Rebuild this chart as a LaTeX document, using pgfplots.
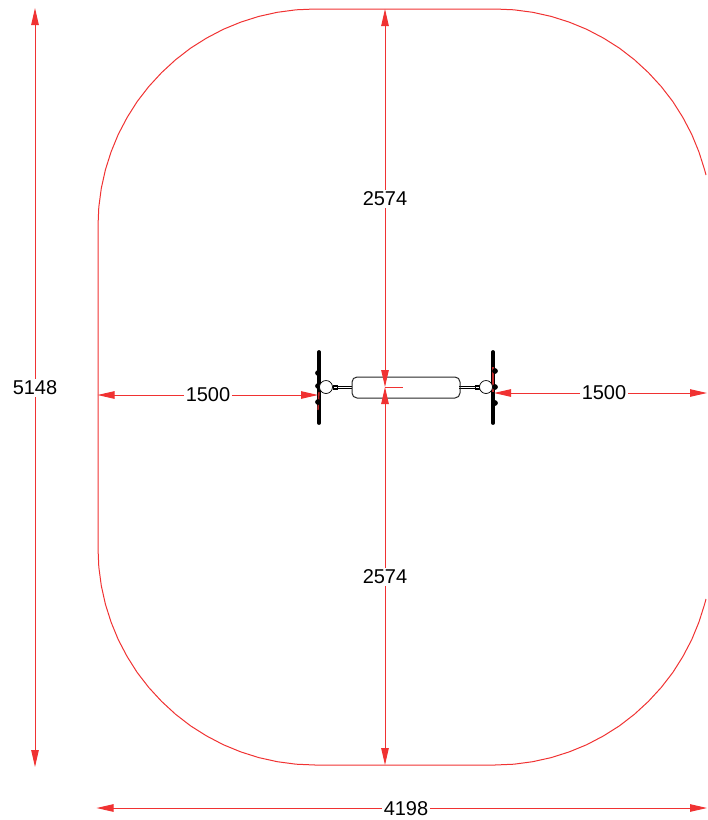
\documentclass[border=0pt]{standalone}
\usepackage{fontspec}
\setmainfont{Liberation Sans}
\usepackage{pgfplots}
\pgfplotsset{compat=1.18}
\usetikzlibrary{arrows.meta}
\definecolor{dimred}{RGB}{240,50,50}
\tikzset{
  dim/.style={color=dimred,line width=0.95pt,{Triangle[length=17pt,width=7.5pt]}-{Triangle[length=17pt,width=7.5pt]}},
  dimlabel/.style={fill=white,inner sep=1.5pt,font=\fontsize{20}{20}\selectfont},
}
\begin{document}
\begin{tikzpicture}
\begin{axis}[
  name=m,
  scale only axis, width=707pt, height=820pt,
  xmin=0, xmax=707, ymin=0, ymax=820, y dir=reverse,
  hide axis, clip=false,
]
% outline, open on the right
\addplot[color=dimred,line width=1pt,no markers] coordinates {
  (706,175)(704.6,169.8)(698.9,151.8)(691.7,134.3)(682.9,117.5)(672.8,101.5)(661.2,86.5)(648.4,72.6)(634.5,59.8)(619.5,48.2)(603.5,38.1)(586.7,29.3)(569.2,22.1)(551.2,16.4)(532.7,12.3)(513.9,9.8)(495,9)
  (315,9)(296.1,9.8)(277.3,12.3)(258.8,16.4)(240.8,22.1)(223.3,29.3)(206.5,38.1)(190.5,48.2)(175.5,59.8)(161.6,72.6)(148.8,86.5)(137.2,101.5)(127.1,117.5)(118.3,134.3)(111.1,151.8)(105.4,169.8)(101.3,188.3)(98.8,207.1)(98,226)
  (98,548)(98.8,566.9)(101.3,585.7)(105.4,604.2)(111.1,622.2)(118.3,639.7)(127.1,656.5)(137.2,672.5)(148.8,687.5)(161.6,701.4)(175.5,714.2)(190.5,725.8)(206.5,735.9)(223.3,744.7)(240.8,751.9)(258.8,757.6)(277.3,761.7)(296.1,764.2)(315,765)
  (495,765)(513.9,764.2)(532.7,761.7)(551.2,757.6)(569.2,751.9)(586.7,744.7)(603.5,735.9)(619.5,725.8)(634.5,714.2)(648.4,701.4)(661.2,687.5)(672.8,672.5)(682.9,656.5)(691.7,639.7)(698.9,622.2)(704.6,604.2)(706,599)
};
% equipment
\addplot[black,line width=3.8pt,line cap=round,no markers] coordinates {(319,352)(319,423)};
\addplot[black,line width=3.8pt,line cap=round,no markers] coordinates {(493,352)(493,423)};
\addplot[only marks,mark=*,mark size=2.6pt,black] coordinates {
  (318,373)(318,386)(318,402)(495,371)(495,387)(495,403)};
\addplot[black,line width=0.7pt,no markers] coordinates {(333,386)(352,386)};
\addplot[black,line width=0.7pt,no markers] coordinates {(333,388.5)(352,388.5)};
\addplot[black,line width=0.7pt,no markers] coordinates {(459,386)(479,386)};
\addplot[black,line width=0.7pt,no markers] coordinates {(459,388.5)(479,388.5)};
\addplot[only marks,mark=square,mark size=2pt,black,mark options={fill=white,line width=0.6pt}] coordinates {(335,387)(477,387)};
\addplot[only marks,mark=*,mark size=6.5pt,mark options={fill=white,draw=black,line width=0.7pt}] coordinates {(326,387)(486,387)};
\addplot[black!85,line width=1pt,rounded corners=5pt,no markers] coordinates {
  (400,377)(460,377)(460,398)(352,398)(352,377)(400,377)};
% red details on the equipment
\addplot[color=dimred,line width=0.95pt,no markers] coordinates {(385,387)(403,387)};
\addplot[color=dimred!80!black,line width=1.4pt,no markers] coordinates {(319,392)(318,410)};
\addplot[color=dimred!80!black,line width=1.4pt,no markers] coordinates {(493,367)(493,392)};
% dimension lines
\addplot[dim,no markers] coordinates {(35,8)(35,767)};
\addplot[dim,no markers] coordinates {(385,9)(385,387)};
\addplot[dim,no markers] coordinates {(385,387)(385,765)};
\addplot[dim,no markers] coordinates {(97.5,395)(318,395)};
\addplot[dim,no markers] coordinates {(494,393)(707,393)};
\addplot[dim,no markers] coordinates {(96.5,808)(707,808)};
% labels
\node[dimlabel] at (axis cs:35,388) {5148};
\node[dimlabel] at (axis cs:385,199) {2574};
\node[dimlabel] at (axis cs:385,577) {2574};
\node[dimlabel] at (axis cs:208,395) {1500};
\node[dimlabel] at (axis cs:604,393) {1500};
\node[dimlabel] at (axis cs:406,809) {4198};
\end{axis}
\useasboundingbox (m.south west) rectangle (m.north east);
\end{tikzpicture}
\end{document}
